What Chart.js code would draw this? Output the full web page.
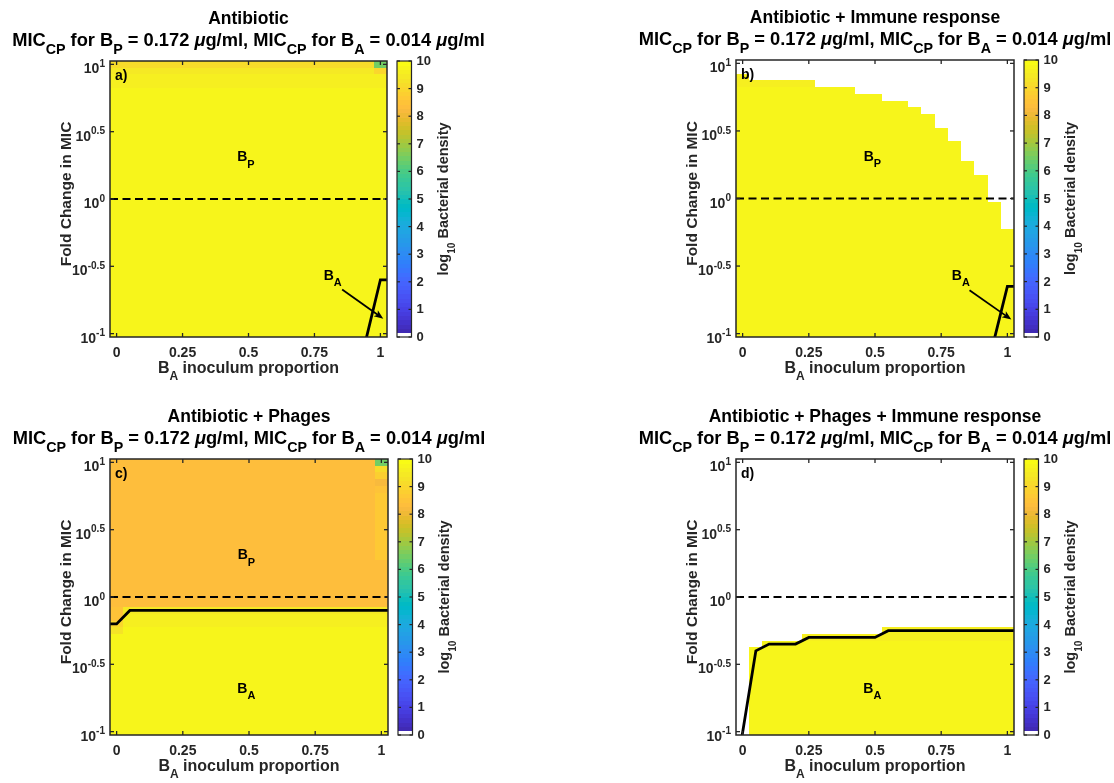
<!DOCTYPE html>
<html>
<head>
<meta charset="utf-8">
<title>Fold change in MIC vs B_A inoculum proportion</title>
<script src="https://cdn.jsdelivr.net/npm/chart.js@4.4.1/dist/chart.umd.min.js"></script>
<style>
  body { margin: 0; background: #fff; }
  #wrap { position: relative; width: 1114px; height: 783px; overflow: hidden; }
  canvas { position: absolute; }
</style>
</head>
<body>
<div id="wrap">
  <canvas id="panelA" width="557" height="391" style="left:0;top:0"></canvas>
  <canvas id="panelB" width="557" height="391" style="left:557px;top:0"></canvas>
  <canvas id="panelC" width="557" height="392" style="left:0;top:391px"></canvas>
  <canvas id="panelD" width="557" height="392" style="left:557px;top:391px"></canvas>
</div>
<script>
// Grid of the simulations: B_A inoculum proportion (columns) and log10 fold change in MIC (rows)
const inoculumProportion = [0, 0.05, 0.1, 0.15, 0.2, 0.25, 0.3, 0.35, 0.4, 0.45, 0.5,
  0.55, 0.6, 0.65, 0.7, 0.75, 0.8, 0.85, 0.9, 0.95, 1];
const micExponent = [-1, -0.95, -0.9, -0.85, -0.8, -0.75, -0.7, -0.65, -0.6, -0.55,
  -0.5, -0.45, -0.4, -0.35, -0.3, -0.25, -0.2, -0.15, -0.1, -0.05,
  0, 0.05, 0.1, 0.15, 0.2, 0.25, 0.3, 0.35, 0.4, 0.45,
  0.5, 0.55, 0.6, 0.65, 0.7, 0.75, 0.8, 0.85, 0.9, 0.95, 1];

const xTickValues = [0, 0.25, 0.5, 0.75, 1];
const xTickLabels = ["0", "0.25", "0.5", "0.75", "1"];
const yTickExponents = [-1, -0.5, 0, 0.5, 1];
const yTickLabels = ["-1", "-0.5", "0", "0.5", "1"];
const densityTicks = [0, 1, 2, 3, 4, 5, 6, 7, 8, 9, 10];

const panelTitles = ["Antibiotic", "Antibiotic + Immune response",
  "Antibiotic + Phages", "Antibiotic + Phages + Immune response"];

// log10 bacterial density per row (bottom row first)
const rowDensityA = [
  9.8, 9.8, 9.8, 9.8, 9.8, 9.8, 9.8, 9.8, 9.8, 9.8,
  9.8, 9.8, 9.8, 9.8, 9.8, 9.8, 9.8, 9.8, 9.8, 9.8,
  9.8, 9.8, 9.8, 9.8, 9.8, 9.8, 9.8, 9.8, 9.8, 9.8,
  9.8, 9.8, 9.8, 9.8, 9.8, 9.8, 9.8, 9.65, 9.6, 9.45,
  9.2];
const rowDensityB = [
  9.8, 9.8, 9.8, 9.8, 9.8, 9.8, 9.8, 9.8, 9.8, 9.8,
  9.8, 9.8, 9.8, 9.8, 9.8, 9.8, 9.8, 9.8, 9.8, 9.8,
  9.8, 9.8, 9.8, 9.8, 9.8, 9.8, 9.8, 9.8, 9.8, 9.8,
  9.8, 9.8, 9.8, 9.8, 9.8, 9.8, 9.8, 9.65, 9.6, 9.5,
  9.5];
const rowDensityC = [
  9.8, 9.8, 9.8, 9.8, 9.8, 9.8, 9.8, 9.8, 9.8, 9.8,
  9.75, 9.75, 9.75, 9.75, 9.75, 9.75, 9.6, 9.6, 9.4, 8.35,
  8.35, 8.35, 8.35, 8.35, 8.35, 8.35, 8.35, 8.35, 8.35, 8.35,
  8.35, 8.35, 8.35, 8.35, 8.35, 8.35, 8.35, 8.35, 8.35, 8.35,
  8.35];
const rowDensityD = [
  9.8, 9.8, 9.8, 9.8, 9.8, 9.8, 9.8, 9.8, 9.8, 9.8,
  9.8, 9.75, 9.7, 9.7, 9.65, 9.6, 9.8, 9.8, 9.8, 9.8,
  9.8, 9.8, 9.8, 9.8, 9.8, 9.8, 9.8, 9.8, 9.8, 9.8,
  9.8, 9.8, 9.8, 9.8, 9.8, 9.8, 9.8, 9.8, 9.8, 9.8,
  9.8];

// highest surviving row (exponent) per column; null = nothing survives
const columnTopB = [0.9, 0.85, 0.85, 0.85, 0.85, 0.85, 0.8, 0.8, 0.8, 0.75, 0.75,
  0.7, 0.7, 0.65, 0.6, 0.5, 0.4, 0.25, 0.15, -0.05, -0.25];
const columnTopD = [null, -0.4, -0.35, -0.35, -0.35, -0.3, -0.3, -0.3, -0.3, -0.3, -0.3,
  -0.25, -0.25, -0.25, -0.25, -0.25, -0.25, -0.25, -0.25, -0.25, -0.25];

// single cells that differ from their row: [proportion, exponent, density]
const oddCellsA = [[1, 1, 6.5], [1, 0.95, 9.0]];
const oddCellsB = [];
const oddCellsC = [
  [1, 1, 6.5], [1, 0.95, 9.1], [1, 0.9, 8.8], [1, 0.85, 8.2], [1, 0.8, 8.5],
  [1, 0.75, 8.7], [1, 0.7, 8.7], [1, 0.65, 8.7], [1, 0.6, 8.7], [1, 0.55, 8.7],
  [1, 0.5, 8.7], [1, 0.45, 8.7], [1, 0.4, 8.7], [1, 0.35, 8.7], [1, 0.3, 8.7],
  [0, -0.1, 8.5], [0, -0.15, 8.5], [0, -0.2, 9.0], [0, -0.25, 9.3]];
const oddCellsD = [];

// black contour lines (proportion, exponent)
const contourPropA = [0.947, 1.0, 1.03];
const contourExpA = [-1.03, -0.6, -0.6];
const contourPropB = [0.952, 1.0, 1.03];
const contourExpB = [-1.03, -0.65, -0.65];
const contourPropC = [-0.03, 0.0, 0.05, 1.03];
const contourExpC = [-0.2, -0.2, -0.1, -0.1];
const contourPropD = [-0.002, 0.05, 0.1, 0.2, 0.25, 0.5, 0.55, 1.03];
const contourExpD = [-1.03, -0.4, -0.35, -0.35, -0.3, -0.3, -0.25, -0.25];

// MATLAB parula, first entry shown white
const parula = [
  [0.2422,0.1504,0.6603],[0.2504,0.1650,0.7076],[0.2578,0.1818,0.7511],[0.2647,0.1978,0.7952],
  [0.2706,0.2147,0.8364],[0.2751,0.2342,0.8710],[0.2783,0.2559,0.8991],[0.2803,0.2782,0.9221],
  [0.2813,0.3006,0.9414],[0.2810,0.3228,0.9579],[0.2795,0.3447,0.9717],[0.2760,0.3667,0.9829],
  [0.2699,0.3892,0.9906],[0.2602,0.4123,0.9952],[0.2440,0.4358,0.9988],[0.2206,0.4603,0.9973],
  [0.1963,0.4847,0.9892],[0.1834,0.5074,0.9798],[0.1786,0.5289,0.9682],[0.1764,0.5499,0.9520],
  [0.1687,0.5703,0.9359],[0.1540,0.5902,0.9218],[0.1460,0.6091,0.9079],[0.1380,0.6276,0.8973],
  [0.1248,0.6459,0.8883],[0.1113,0.6635,0.8763],[0.0952,0.6798,0.8598],[0.0689,0.6948,0.8394],
  [0.0297,0.7082,0.8163],[0.0036,0.7203,0.7917],[0.0067,0.7312,0.7660],[0.0433,0.7411,0.7394],
  [0.0964,0.7500,0.7120],[0.1408,0.7584,0.6842],[0.1717,0.7670,0.6554],[0.1938,0.7758,0.6251],
  [0.2161,0.7843,0.5923],[0.2470,0.7918,0.5567],[0.2906,0.7973,0.5188],[0.3406,0.8008,0.4789],
  [0.3909,0.8029,0.4354],[0.4456,0.8024,0.3909],[0.5044,0.7993,0.3480],[0.5616,0.7942,0.3045],
  [0.6174,0.7876,0.2612],[0.6720,0.7793,0.2227],[0.7242,0.7698,0.1910],[0.7738,0.7598,0.1646],
  [0.8203,0.7498,0.1535],[0.8634,0.7406,0.1596],[0.9035,0.7330,0.1774],[0.9393,0.7288,0.2100],
  [0.9728,0.7298,0.2394],[0.9956,0.7434,0.2371],[0.9970,0.7659,0.2199],[0.9952,0.7893,0.2028],
  [0.9892,0.8136,0.1885],[0.9786,0.8386,0.1766],[0.9676,0.8639,0.1643],[0.9610,0.8890,0.1537],
  [0.9597,0.9135,0.1423],[0.9628,0.9373,0.1265],[0.9691,0.9606,0.1064],[0.9769,0.9839,0.0805]
];

const FONT = '"Liberation Sans", Arial, Helvetica, sans-serif';
const AXIS_COLOR = "#262626";
const cellHalfWidth = (inoculumProportion[1] - inoculumProportion[0]) / 2;
const cellHalfHeight = (micExponent[1] - micExponent[0]) / 2;

const micSubtitle = [["MIC", ""], ["CP", "sub"], [" for B", ""], ["P", "sub"], [" = 0.172 ", ""],
  ["\u03bc", "it"], ["g/ml, MIC", ""], ["CP", "sub"], [" for B", ""], ["A", "sub"],
  [" = 0.014 ", ""], ["\u03bc", "it"], ["g/ml", ""]];

function mapColor(k) {
  if (k === 0) return "#ffffff";
  const c = parula[k];
  return `rgb(${Math.round(c[0] * 255)},${Math.round(c[1] * 255)},${Math.round(c[2] * 255)})`;
}

function densityColor(v) {
  const k = Math.min(parula.length - 1, Math.max(0, Math.floor(v / 10 * parula.length)));
  return mapColor(k);
}

// text with sub/superscripts, as MATLAB tex labels
function drawRich(ctx, parts, x, y, size, align, color, small = 0.7) {
  const fontFor = (kind) => {
    const s = kind === "sub" || kind === "sup" ? size * small : size;
    return `${kind === "it" ? "italic " : ""}bold ${s}px ${FONT}`;
  };
  let total = 0;
  parts.forEach(([t, k]) => { ctx.font = fontFor(k); total += ctx.measureText(t).width; });
  let cx = align === "center" ? x - total / 2 : align === "right" ? x - total : x;
  ctx.fillStyle = color;
  ctx.textAlign = "left";
  ctx.textBaseline = "alphabetic";
  parts.forEach(([t, k]) => {
    ctx.font = fontFor(k);
    const dy = k === "sub" ? size * 0.45 : k === "sup" ? -size * 0.45 : 0;
    ctx.fillText(t, cx, y + dy);
    cx += ctx.measureText(t).width;
  });
}

function cellValue(p, i, j) {
  const xv = inoculumProportion[i];
  const e = micExponent[j];
  const odd = p.odd.find((c) => Math.abs(c[0] - xv) < 1e-6 && Math.abs(c[1] - e) < 1e-6);
  if (odd) return odd[2];
  if (p.tops) {
    const top = p.tops[i];
    if (top === null || e > top + 1e-6) return null;
  }
  return p.rows[j];
}

function line(ctx, x0, y0, x1, y1) {
  ctx.beginPath();
  ctx.moveTo(x0, y0);
  ctx.lineTo(x1, y1);
  ctx.stroke();
}

function makePanelPlugin(p) {
  return {
    id: "panel" + p.key,
    beforeDatasetsDraw(chart) {
      const { ctx, scales: { x, y } } = chart;
      ctx.save();
      inoculumProportion.forEach((xv, i) => {
        micExponent.forEach((e, j) => {
          const v = cellValue(p, i, j);
          if (v === null) return;
          const x0 = Math.round(x.getPixelForValue(xv - cellHalfWidth));
          const x1 = Math.round(x.getPixelForValue(xv + cellHalfWidth));
          const y0 = Math.round(y.getPixelForValue(10 ** (e + cellHalfHeight)));
          const y1 = Math.round(y.getPixelForValue(10 ** (e - cellHalfHeight)));
          ctx.fillStyle = densityColor(v);
          ctx.fillRect(x0, y0, x1 - x0, y1 - y0);
        });
      });
      ctx.restore();
    },
    afterDatasetsDraw(chart) {
      const { ctx, chartArea: a, scales: { x, y, cb } } = chart;
      const cx = (a.left + a.right) / 2;
      const cy = (a.top + a.bottom) / 2;
      ctx.save();

      // arrow from the B_A label
      if (p.arrow) {
        const x0 = x.getPixelForValue(p.arrow.from[0]);
        const y0 = y.getPixelForValue(10 ** p.arrow.from[1]);
        const x1 = x.getPixelForValue(p.arrow.to[0]);
        const y1 = y.getPixelForValue(10 ** p.arrow.to[1]);
        const ang = Math.atan2(y1 - y0, x1 - x0);
        ctx.strokeStyle = "#000";
        ctx.fillStyle = "#000";
        ctx.lineWidth = 1.8;
        line(ctx, x0, y0, x1 - 6 * Math.cos(ang), y1 - 6 * Math.sin(ang));
        ctx.beginPath();
        ctx.moveTo(x1, y1);
        ctx.lineTo(x1 - 10 * Math.cos(ang - 0.38), y1 - 10 * Math.sin(ang - 0.38));
        ctx.lineTo(x1 - 7 * Math.cos(ang), y1 - 7 * Math.sin(ang));
        ctx.lineTo(x1 - 10 * Math.cos(ang + 0.38), y1 - 10 * Math.sin(ang + 0.38));
        ctx.closePath();
        ctx.fill();
      }

      // axes box with inward ticks
      ctx.strokeStyle = AXIS_COLOR;
      ctx.lineWidth = 1.5;
      ctx.strokeRect(a.left, a.top, a.right - a.left, a.bottom - a.top);
      ctx.lineWidth = 1.3;
      xTickValues.forEach((v) => {
        const px = x.getPixelForValue(v);
        line(ctx, px, a.bottom, px, a.bottom - 4);
        line(ctx, px, a.top, px, a.top + 4);
      });
      yTickExponents.forEach((e) => {
        const py = y.getPixelForValue(10 ** e);
        line(ctx, a.left, py, a.left + 4, py);
        line(ctx, a.right, py, a.right - 4, py);
      });

      // tick labels
      ctx.font = `bold 14px ${FONT}`;
      ctx.fillStyle = AXIS_COLOR;
      ctx.textAlign = "center";
      ctx.textBaseline = "alphabetic";
      xTickValues.forEach((v, i) => {
        ctx.fillText(xTickLabels[i], x.getPixelForValue(v), a.bottom + 19.5);
      });
      yTickExponents.forEach((e, i) => {
        const py = y.getPixelForValue(10 ** e);
        drawRich(ctx, [["10", ""], [yTickLabels[i], "sup"]], a.left - 5, py + 9, 14, "right", AXIS_COLOR, 0.72);
      });

      // axis titles
      drawRich(ctx, [["B", ""], ["A", "sub"], [" inoculum proportion", ""]], cx, a.bottom + 36, 16, "center", AXIS_COLOR, 0.75);
      ctx.save();
      ctx.translate(a.left - 39, cy - 5);
      ctx.rotate(-Math.PI / 2);
      drawRich(ctx, [["Fold Change in MIC", ""]], 0, 0, 15.5, "center", AXIS_COLOR);
      ctx.restore();

      // panel title
      drawRich(ctx, [[p.title, ""]], cx, a.top - 37, 17.5, "center", "#000");
      drawRich(ctx, micSubtitle, cx, a.top - 15, 18.3, "center", "#000", 0.78);

      // panel letter and region labels
      drawRich(ctx, [[p.letter, ""]], a.left + 5, a.top + 19, 14, "left", "#000");
      p.labels.forEach((l) => {
        drawRich(ctx, [["B", ""], [l.sub, "sub"]], x.getPixelForValue(l.x),
          y.getPixelForValue(10 ** l.e), 14, l.align, "#000", 0.78);
      });

      // colour bar
      const bx0 = a.right + 10;
      const bx1 = a.right + 24.5;
      parula.forEach((c, k) => {
        const yt = Math.floor(cb.getPixelForValue((k + 1) * 10 / parula.length));
        const yb = Math.ceil(cb.getPixelForValue(k * 10 / parula.length));
        ctx.fillStyle = mapColor(k);
        ctx.fillRect(bx0, yt, bx1 - bx0, yb - yt);
      });
      ctx.strokeStyle = AXIS_COLOR;
      ctx.lineWidth = 1.2;
      ctx.strokeRect(bx0, cb.getPixelForValue(10), bx1 - bx0, cb.getPixelForValue(0) - cb.getPixelForValue(10));
      ctx.font = `bold 13px ${FONT}`;
      ctx.fillStyle = AXIS_COLOR;
      ctx.textAlign = "left";
      ctx.textBaseline = "middle";
      densityTicks.forEach((t) => {
        const py = cb.getPixelForValue(t);
        line(ctx, bx1, py, bx1 - 3, py);
        line(ctx, bx0, py, bx0 + 3, py);
        ctx.fillText(String(t), bx1 + 5, py + 0.5);
      });
      ctx.save();
      ctx.translate(bx0 + 51, cy);
      ctx.rotate(-Math.PI / 2);
      drawRich(ctx, [["log", ""], ["10", "sub"], [" Bacterial density", ""]], 0, 0, 14.5, "center", AXIS_COLOR);
      ctx.restore();

      ctx.restore();
    }
  };
}

const panels = [
  { key: "A", canvas: "panelA", title: panelTitles[0], letter: "a)", rows: rowDensityA, tops: null,
    odd: oddCellsA, contour: [contourPropA, contourExpA],
    padding: { left: 110, top: 61, right: 170, bottom: 54 },
    labels: [{ sub: "P", x: 0.49, e: 0.28, align: "center" }, { sub: "A", x: 0.785, e: -0.6, align: "left" }],
    arrow: { from: [0.855, -0.673], to: [1.011, -0.889] } },
  { key: "B", canvas: "panelB", title: panelTitles[1], letter: "b)", rows: rowDensityB, tops: columnTopB,
    odd: oddCellsB, contour: [contourPropB, contourExpB],
    padding: { left: 179, top: 60, right: 100, bottom: 54 },
    labels: [{ sub: "P", x: 0.49, e: 0.28, align: "center" }, { sub: "A", x: 0.79, e: -0.6, align: "left" }],
    arrow: { from: [0.857, -0.679], to: [1.015, -0.896] } },
  { key: "C", canvas: "panelC", title: panelTitles[2], letter: "c)", rows: rowDensityC, tops: null,
    odd: oddCellsC, contour: [contourPropC, contourExpC],
    padding: { left: 110, top: 68, right: 169, bottom: 48 },
    labels: [{ sub: "P", x: 0.49, e: 0.28, align: "center" }, { sub: "A", x: 0.49, e: -0.71, align: "center" }],
    arrow: null },
  { key: "D", canvas: "panelD", title: panelTitles[3], letter: "d)", rows: rowDensityD, tops: columnTopD,
    odd: oddCellsD, contour: [contourPropD, contourExpD],
    padding: { left: 179, top: 68, right: 100, bottom: 48 },
    labels: [{ sub: "A", x: 0.49, e: -0.71, align: "center" }],
    arrow: null }
];

panels.forEach((p) => {
  const xMin = inoculumProportion[0] - cellHalfWidth;
  const xMax = inoculumProportion[inoculumProportion.length - 1] + cellHalfWidth;
  const contourPoints = p.contour[0].map((v, i) => ({ x: v, y: 10 ** p.contour[1][i] }));

  new Chart(document.getElementById(p.canvas), {
    type: "line",
    data: {
      datasets: [
        {
          // MIC fold change of 1
          data: [{ x: xMin, y: 1 }, { x: xMax + 0.01, y: 1 }],
          borderColor: "#000",
          borderWidth: 2,
          borderDash: [8, 4.5],
          pointRadius: 0,
          clip: 0,
        },
        {
          data: contourPoints,
          borderColor: "#000",
          borderWidth: 2.8,
          pointRadius: 0,
          tension: 0,
          clip: 0,
        },
      ],
    },
    options: {
      responsive: false,
      animation: false,
      devicePixelRatio: 1,
      events: [],
      layout: { padding: p.padding },
      plugins: { legend: { display: false }, tooltip: { enabled: false } },
      scales: {
        x: { type: "linear", min: xMin, max: xMax, display: false },
        y: {
          type: "logarithmic",
          min: 10 ** (micExponent[0] - cellHalfHeight),
          max: 10 ** (micExponent[micExponent.length - 1] + cellHalfHeight),
          display: false,
        },
        cb: { type: "linear", axis: "y", position: "right", min: 0, max: 10, display: false },
      },
    },
    plugins: [makePanelPlugin(p)],
  });
});
</script>
</body>
</html>
